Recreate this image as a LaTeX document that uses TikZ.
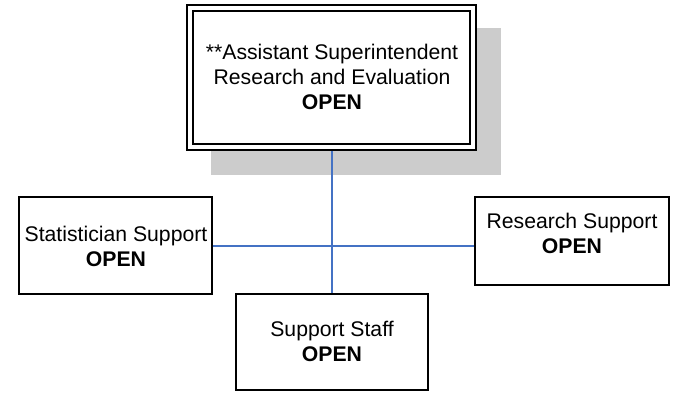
\documentclass[tikz,border=0pt]{standalone}
\usepackage{fontspec}
\setmainfont{Liberation Sans}
\begin{document}
\begin{tikzpicture}[x=1pt,y=-1pt,
  box/.style={draw=black,line width=1.5pt,fill=white,inner sep=0pt},
  txt/.style={align=center,inner sep=0pt,font=\fontsize{21.2}{25}\selectfont},
  conn/.style={draw={rgb,255:red,68;green,114;blue,196},line width=1.2pt}]
\useasboundingbox (0,0) rectangle (677,394);
% shadow
\fill[gray!40] (211,28) rectangle (501,175);
% top box (double border)
\node[box,line width=1.8pt,minimum width=289pt,minimum height=145pt] (top) at (331.5,77.5) {};
\node[draw=black,line width=1.1pt,inner sep=0pt,minimum width=277pt,minimum height=133pt] (topin) at (top.center) {};
\node[txt] (toptxt) at (332,76.5) {**Assistant Superintendent\\Research and Evaluation\\\textbf{OPEN}};
% other boxes
\node[box,minimum width=193pt,minimum height=97pt] (stat) at (115.5,245.5) {};
\node[txt] (stattxt) at (116,246.5) {Statistician Support\\\textbf{OPEN}};
\node[box,minimum width=194pt,minimum height=88pt] (res) at (572,241) {};
\node[txt] (restxt) at (572,233) {Research Support\\\textbf{OPEN}};
\node[box,minimum width=192pt,minimum height=96pt] (staff) at (332,342) {};
\node[txt] (stafftxt) at (332,341) {Support Staff\\\textbf{OPEN}};
% connectors
\draw[conn] (top.south -| staff.north) -- (staff.north);
\draw[conn] (stat.east |- 0,246) -- (res.west |- 0,246);
\end{tikzpicture}
\end{document}
